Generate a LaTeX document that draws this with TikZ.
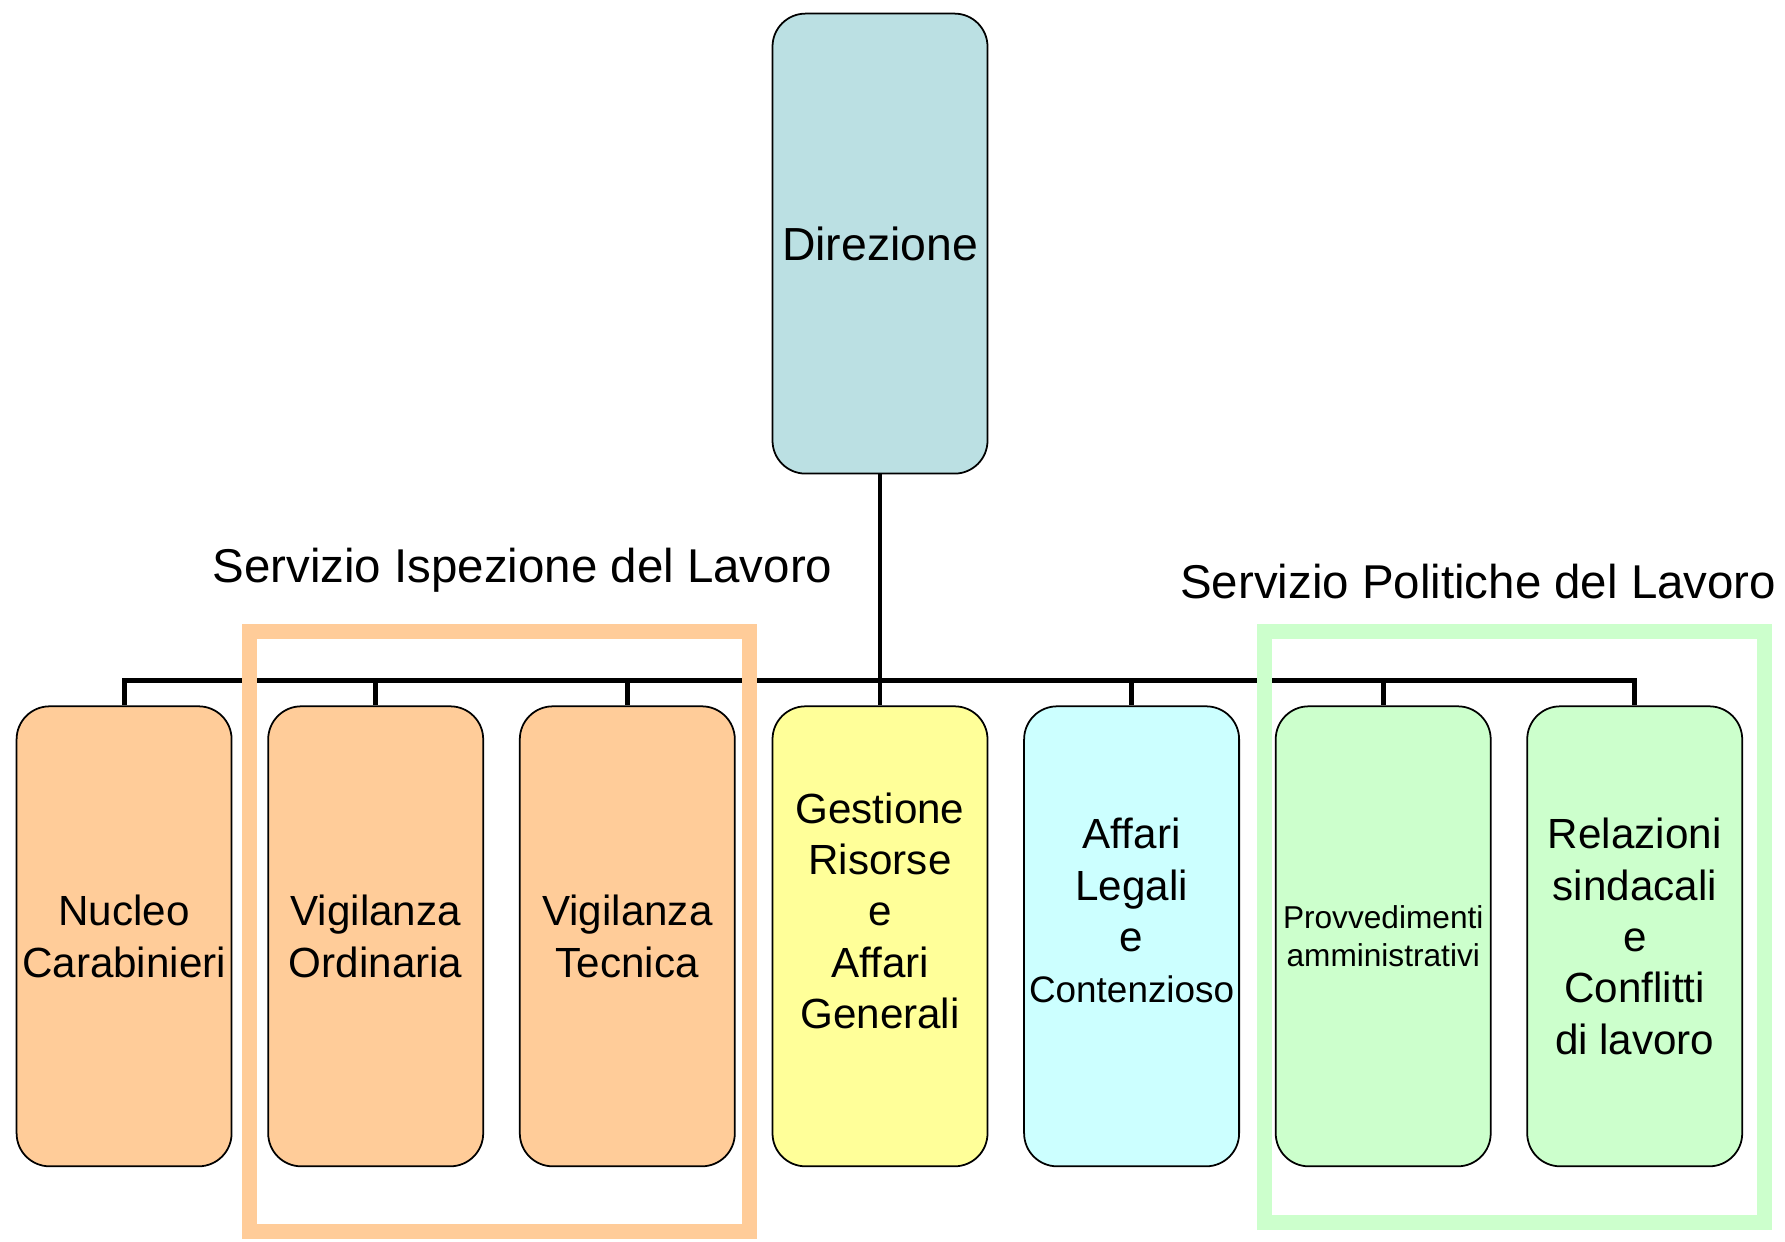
\documentclass[tikz,border=0pt]{standalone}
\usepackage{fontspec}
\setmainfont{Liberation Sans}
\definecolor{dircol}{HTML}{BBE0E3}
\definecolor{ispcol}{HTML}{FFCC99}
\definecolor{gescol}{HTML}{FFFF99}
\definecolor{affcol}{HTML}{CCFFFF}
\definecolor{polcol}{HTML}{CCFFCC}
\begin{document}
\begin{tikzpicture}[
    ufficio/.style={draw=black, line width=0.5pt, rounded corners=0.33cm, minimum width=2.15cm, minimum height=4.6cm, inner sep=0pt, align=center, font=\fontsize{12}{14.6}\selectfont},
    filo/.style={line width=1.4pt},
    gruppo/.style={line width=0.15cm},
    titolo/.style={inner sep=0pt, font=\fontsize{13.5}{14.6}\selectfont}]
    \useasboundingbox (0,0) rectangle (17.85,-12.41);

    \node[ufficio, fill=dircol, font=\fontsize{13.2}{14.6}\selectfont] (dir) at (8.80,-2.436) {Direzione};

    \node[ufficio, fill=ispcol] (nuc) at (1.241,-9.363) {Nucleo\\Carabinieri};
    \node[ufficio, fill=ispcol] (vigo) at (3.757,-9.363) {Vigilanza\\Ordinaria};
    \node[ufficio, fill=ispcol] (vigt) at (6.273,-9.363) {Vigilanza\\Tecnica};
    \node[ufficio, fill=gescol] (ges) at (8.80,-9.363) {Gestione\\Risorse\\e\\Affari\\Generali\\ \mbox{}};
    \node[ufficio, fill=affcol] (aff) at (11.316,-9.363) {Affari\\Legali\\e\\{\fontsize{10.5}{12}\selectfont Contenzioso}\\ \mbox{}};
    \node[ufficio, fill=polcol, font=\fontsize{9}{10.7}\selectfont] (prov) at (13.832,-9.363) {Provvedimenti\\amministrativi};
    \node[ufficio, fill=polcol] (rel) at (16.347,-9.363) {Relazioni\\sindacali\\e\\Conflitti\\di lavoro};

    \coordinate (bus) at (0,-6.808);
    \draw[filo] (dir.south) -- (dir.south |- bus);
    \draw[filo] (nuc.north) -- (nuc.north |- bus) -- (rel.north |- bus) -- (rel.north);
    \foreach \n in {vigo,vigt,ges,aff,prov}
        \draw[filo] (\n.north |- bus) -- (\n.north);

    \node[titolo] (ispez) at (5.225,-5.70) {Servizio Ispezione del Lavoro};
    \node[titolo] (polit) at (14.782,-5.817) {Servizio Politiche del Lavoro};

    \draw[gruppo, ispcol] (2.499,-6.312) rectangle (7.496,-12.312);
    \draw[gruppo, polcol] (12.642,-6.312) rectangle (17.64,-12.221);

\end{tikzpicture}
\end{document}
